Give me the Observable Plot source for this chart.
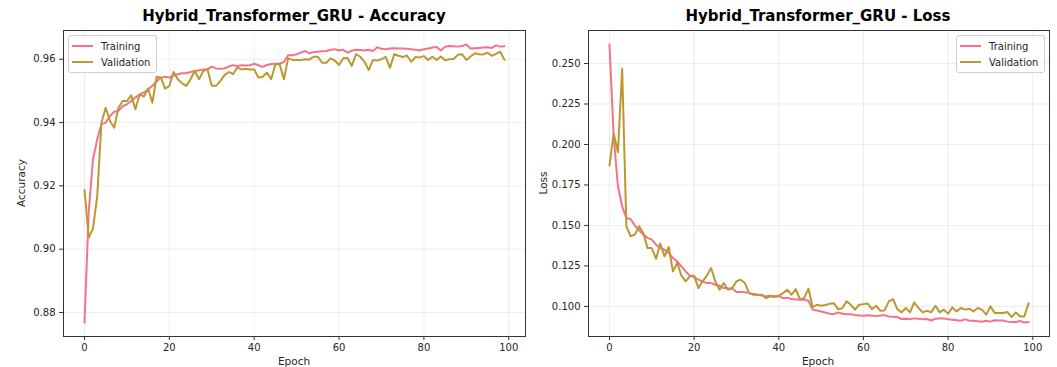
<!DOCTYPE html>
<html>
<head>
<meta charset="utf-8">
<script src="https://cdn.jsdelivr.net/npm/d3@7"></script>
<script src="https://cdn.jsdelivr.net/npm/@observablehq/plot@0.6"></script>
<style>
  html, body { margin: 0; padding: 0; background: #fff; }
  #wrap { position: relative; width: 1057px; height: 367px; overflow: hidden; font-family: "DejaVu Sans", sans-serif; color: #262626; }
  .panel { position: absolute; top: 0; }
  .title { position: absolute; top: 9px; font-weight: bold; font-size: 15px; line-height: 15px; transform: translateX(-50%); white-space: nowrap; color: #000; }
  .xlabel { position: absolute; top: 356px; font-size: 10.5px; line-height: 11px; transform: translateX(-50%); white-space: nowrap; }
  .ylabel { position: absolute; font-size: 10.5px; line-height: 11px; transform: translate(-50%, -50%) rotate(-90deg); white-space: nowrap; }
  .legend { position: absolute; border: 1px solid #d0d0d0; border-radius: 3px; background: rgba(255,255,255,0.85); font-size: 10px; padding: 2px 6px 2px 3px; box-sizing: border-box; }
  .legend .row { display: flex; align-items: center; height: 16px; }
  .legend svg { margin-right: 8px; }
</style>
</head>
<body>
<div id="wrap"></div>
<script>
const epochs = d3.range(0, 100);
const xTicks = [0, 20, 40, 60, 80, 100];
const accTicks = [0.88, 0.90, 0.92, 0.94, 0.96];
const lossTicks = [0.100, 0.125, 0.150, 0.175, 0.200, 0.225, 0.250];
const seriesNames = ["Training", "Validation"];
const seriesColors = ["#f77189", "#bb9832"];
const titles = ["Hybrid_Transformer_GRU - Accuracy", "Hybrid_Transformer_GRU - Loss"];
const yLabels = ["Accuracy", "Loss"];
const xLabel = "Epoch";

const trainAcc = [
  0.8768, 0.9120, 0.9284, 0.9347, 0.9395, 0.9400, 0.9421, 0.9434, 0.9437, 0.9452,
  0.9458, 0.9468, 0.9479, 0.9489, 0.9495, 0.9505, 0.9516, 0.9531, 0.9542, 0.9545,
  0.9542, 0.9549, 0.9553, 0.9556, 0.9556, 0.9560, 0.9563, 0.9565, 0.9568, 0.9568,
  0.9577, 0.9571, 0.9570, 0.9571, 0.9577, 0.9581, 0.9579, 0.9581, 0.9580, 0.9581,
  0.9586, 0.9581, 0.9576, 0.9582, 0.9585, 0.9586, 0.9586, 0.9591, 0.9613, 0.9613,
  0.9616, 0.9621, 0.9626, 0.9619, 0.9623, 0.9624, 0.9625, 0.9626, 0.9630, 0.9632,
  0.9628, 0.9630, 0.9621, 0.9627, 0.9630, 0.9629, 0.9628, 0.9630, 0.9626, 0.9638,
  0.9633, 0.9632, 0.9634, 0.9635, 0.9634, 0.9634, 0.9633, 0.9632, 0.9630, 0.9628,
  0.9632, 0.9634, 0.9637, 0.9639, 0.9628, 0.9640, 0.9642, 0.9641, 0.9640, 0.9642,
  0.9647, 0.9634, 0.9635, 0.9636, 0.9637, 0.9638, 0.9636, 0.9644, 0.9640, 0.9641
];
const valAcc = [
  0.9187, 0.9037, 0.9065, 0.9168, 0.9400, 0.9447, 0.9405, 0.9384, 0.9447, 0.9468,
  0.9468, 0.9486, 0.9442, 0.9489, 0.9482, 0.9507, 0.9463, 0.9545, 0.9542, 0.9507,
  0.9516, 0.9560, 0.9537, 0.9524, 0.9516, 0.9537, 0.9563, 0.9537, 0.9563, 0.9568,
  0.9516, 0.9516, 0.9531, 0.9550, 0.9560, 0.9553, 0.9574, 0.9568, 0.9570, 0.9568,
  0.9568, 0.9542, 0.9545, 0.9558, 0.9537, 0.9584, 0.9584, 0.9537, 0.9603, 0.9598,
  0.9598, 0.9598, 0.9600, 0.9599, 0.9608, 0.9608, 0.9589, 0.9589, 0.9603, 0.9596,
  0.9582, 0.9603, 0.9604, 0.9579, 0.9616, 0.9608, 0.9592, 0.9566, 0.9598, 0.9596,
  0.9600, 0.9608, 0.9573, 0.9616, 0.9611, 0.9607, 0.9612, 0.9592, 0.9607, 0.9606,
  0.9610, 0.9598, 0.9608, 0.9598, 0.9609, 0.9597, 0.9600, 0.9601, 0.9614, 0.9616,
  0.9598, 0.9609, 0.9619, 0.9616, 0.9615, 0.9621, 0.9611, 0.9617, 0.9624, 0.9598
];
const trainLoss = [
  0.2618, 0.2050, 0.1742, 0.1618, 0.1546, 0.1540, 0.1499, 0.1470, 0.1443, 0.1423,
  0.1412, 0.1381, 0.1360, 0.1350, 0.1330, 0.1299, 0.1278, 0.1247, 0.1216, 0.1190,
  0.1181, 0.1165, 0.1155, 0.1144, 0.1144, 0.1134, 0.1128, 0.1113, 0.1110, 0.1110,
  0.1089, 0.1089, 0.1088, 0.1082, 0.1077, 0.1072, 0.1068, 0.1062, 0.1066, 0.1062,
  0.1062, 0.1051, 0.1054, 0.1045, 0.1043, 0.1041, 0.1041, 0.1035, 0.0980, 0.0975,
  0.0969, 0.0962, 0.0955, 0.0952, 0.0963, 0.0955, 0.0952, 0.0951, 0.0947, 0.0944,
  0.0942, 0.0945, 0.0942, 0.0940, 0.0944, 0.0946, 0.0938, 0.0936, 0.0934, 0.0922,
  0.0924, 0.0922, 0.0926, 0.0923, 0.0921, 0.0922, 0.0913, 0.0924, 0.0925, 0.0926,
  0.0920, 0.0918, 0.0915, 0.0911, 0.0920, 0.0912, 0.0911, 0.0908, 0.0905, 0.0911,
  0.0906, 0.0914, 0.0913, 0.0913, 0.0906, 0.0903, 0.0903, 0.0910, 0.0900, 0.0903
];
const valLoss = [
  0.1870, 0.2068, 0.1952, 0.2468, 0.1495, 0.1433, 0.1443, 0.1495, 0.1453, 0.1360,
  0.1360, 0.1293, 0.1388, 0.1309, 0.1367, 0.1216, 0.1268, 0.1190, 0.1155, 0.1186,
  0.1190, 0.1113, 0.1155, 0.1190, 0.1237, 0.1155, 0.1103, 0.1144, 0.1103, 0.1113,
  0.1155, 0.1165, 0.1144, 0.1082, 0.1072, 0.1072, 0.1072, 0.1051, 0.1062, 0.1058,
  0.1066, 0.1082, 0.1103, 0.1072, 0.1107, 0.1045, 0.1051, 0.1110, 0.0995, 0.1010,
  0.1004, 0.1008, 0.1016, 0.1020, 0.0983, 0.0988, 0.1031, 0.1010, 0.0980, 0.1010,
  0.1014, 0.1018, 0.0983, 0.1004, 0.0973, 0.0975, 0.1031, 0.1045, 0.0983, 0.0963,
  0.0990, 0.0963, 0.1025, 0.0990, 0.0963, 0.0973, 0.0963, 0.1004, 0.0963, 0.0980,
  0.0955, 0.0994, 0.0969, 0.0990, 0.0980, 0.0986, 0.0969, 0.0990, 0.0980, 0.0949,
  0.1000, 0.0959, 0.0959, 0.0959, 0.0965, 0.0934, 0.0963, 0.0938, 0.0938, 0.1019
];

const wrap = document.getElementById("wrap");

function padded(values) {
  const [lo, hi] = d3.extent(values);
  const p = (hi - lo) * 0.05;
  return [lo - p, hi + p];
}

function makePanel(train, val, yTicks, fmt, layout) {
  const xExt = d3.extent(epochs);
  const xp = (xExt[1] - xExt[0]) * 0.05;
  const chart = Plot.plot({
    width: layout.width,
    height: 367,
    marginLeft: layout.ml,
    marginRight: layout.mr,
    marginTop: 30,
    marginBottom: 31,
    style: { fontFamily: "DejaVu Sans, sans-serif", fontSize: "10px", color: "#262626", background: "transparent", overflow: "visible" },
    x: { domain: [xExt[0] - xp, xExt[1] + xp] },
    y: { domain: padded(train.concat(val)) },
    marks: [
      Plot.gridX(xTicks, { stroke: "#000", strokeOpacity: 0.09, strokeWidth: 0.8 }),
      Plot.gridY(yTicks, { stroke: "#000", strokeOpacity: 0.09, strokeWidth: 0.8 }),
      Plot.axisX(xTicks, { tickSize: 4, tickPadding: 3, label: null, tickFormat: d3.format("d"), stroke: "#333" }),
      Plot.axisY(yTicks, { tickSize: 4, tickPadding: 4, label: null, tickFormat: d3.format(fmt), stroke: "#333" }),
      Plot.line(epochs, { x: epochs, y: train, stroke: seriesColors[0], strokeWidth: 2, strokeLinejoin: "round" }),
      Plot.line(epochs, { x: epochs, y: val, stroke: seriesColors[1], strokeWidth: 2, strokeLinejoin: "round" }),
      Plot.frame({ stroke: "#333", strokeWidth: 1 })
    ]
  });
  const holder = document.createElement("div");
  holder.className = "panel";
  holder.style.left = layout.left + "px";
  holder.appendChild(chart);
  wrap.appendChild(holder);
}

function addText(cls, text, x, y) {
  const d = document.createElement("div");
  d.className = cls;
  d.textContent = text;
  d.style.left = x + "px";
  if (y != null) d.style.top = y + "px";
  wrap.appendChild(d);
}

function addLegend(left, top) {
  const lg = document.createElement("div");
  lg.className = "legend";
  lg.style.left = left + "px";
  lg.style.top = top + "px";
  seriesNames.forEach((name, i) => {
    const row = document.createElement("div");
    row.className = "row";
    row.innerHTML = `<svg width="21" height="4"><line x1="0" x2="21" y1="2" y2="2" stroke="${seriesColors[i]}" stroke-width="2"/></svg><span>${name}</span>`;
    lg.appendChild(row);
  });
  wrap.appendChild(lg);
}

makePanel(trainAcc, valAcc, accTicks, ".2f", { left: 0, width: 528, ml: 63, mr: 3 });
makePanel(trainLoss, valLoss, lossTicks, ".3f", { left: 528, width: 529, ml: 60, mr: 8 });

addText("title", titles[0], 294);
addText("title", titles[1], 818);
addText("xlabel", xLabel, 294);
addText("xlabel", xLabel, 818);
addText("ylabel", yLabels[0], 21, 183);
addText("ylabel", yLabels[1], 543, 183);
addLegend(68, 35);
addLegend(956, 35);
</script>
</body>
</html>
